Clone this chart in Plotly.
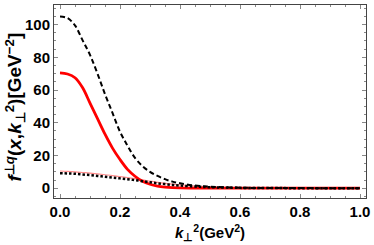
import plotly.graph_objects as go

k = [0, 0.025, 0.05, 0.075, 0.1, 0.125, 0.15, 0.175, 0.2, 0.225, 0.25, 0.275,
     0.3, 0.325, 0.35, 0.375, 0.4, 0.45, 0.5, 0.6, 0.7, 0.8, 0.9, 1.0]

dashed_black = [105, 104, 99.5, 90.5, 81.5, 70, 57.5, 46, 34.5, 26, 18.5, 13.5,
                10, 7.5, 5.5, 4, 3, 1.6, 0.9, 0.3, 0.1, 0.05, 0.02, 0.01]
solid_red = [70.5, 69.8, 67.5, 61.5, 52, 42.5, 33, 24.5, 17.5, 11.5, 7.3, 4.2,
             2.4, 1.3, 0.7, 0.35, 0.2, 0.05, 0.02, 0, 0, 0, 0, 0]
thin_red = [10.5, 10.3, 10, 9.6, 9.2, 8.7, 8.2, 7.7, 7.1, 6.5, 5.8, 5.1,
            4.3, 3.6, 3.0, 2.5, 2.0, 1.3, 0.8, 0.3, 0.1, 0.04, 0.01, 0]
dotted_black = [9.2, 9.0, 8.8, 8.4, 8.0, 7.5, 7.0, 6.5, 6.0, 5.5, 4.9, 4.3,
                3.6, 3.0, 2.5, 2.0, 1.6, 1.0, 0.6, 0.2, 0.07, 0.02, 0.01, 0]

x_ticks = [0, 0.2, 0.4, 0.6, 0.8, 1.0]
x_ticklabels = ["0.0", "0.2", "0.4", "0.6", "0.8", "1.0"]
y_ticks = [0, 20, 40, 60, 80, 100]

x_title = "<b><i>k</i><sub>⊥</sub><sup>2</sup>(GeV<sup>2</sup>)</b>"
y_title = "<b><i>f</i><sup>⊥<i>q</i></sup>(<i>x</i>,<i>k</i><sub>⊥</sub><sup>2</sup>)[GeV<sup>−2</sup>]</b>"

FONT = "Liberation Sans"

fig = go.Figure()
fig.add_trace(go.Scatter(x=k, y=thin_red, mode="lines", line=dict(color="#ff8a8a", width=1.2, shape="spline")))
fig.add_trace(go.Scatter(x=k, y=solid_red, mode="lines", line=dict(color="#ff0000", width=2.8, shape="spline")))
fig.add_trace(go.Scatter(x=k, y=dashed_black, mode="lines", line=dict(color="black", width=2, dash="5px,3px", shape="spline")))
fig.add_trace(go.Scatter(x=k, y=dotted_black, mode="lines", line=dict(color="black", width=2.5, dash="2.5px,2px", shape="spline")))

axis_common = dict(
    showgrid=False, zeroline=False, showline=True, linecolor="#444", linewidth=1,
    mirror="ticks", ticks="inside", ticklen=4, tickwidth=1, tickcolor="#888",
    tickfont=dict(family=FONT, size=15, color="black", weight="bold"),
)

fig.update_xaxes(
    range=[-0.02, 1.02], tickvals=x_ticks, ticktext=x_ticklabels,
    minor=dict(ticks="inside", ticklen=2, dtick=0.05, tick0=0, tickcolor="#888"),
    **axis_common,
)
fig.update_yaxes(
    range=[-6, 112], tickvals=y_ticks,
    minor=dict(ticks="inside", ticklen=2, dtick=5, tick0=0, tickcolor="#888"),
    **axis_common,
)

fig.add_annotation(text=x_title, xref="paper", yref="paper", x=0.5, y=0,
                   xanchor="center", yanchor="middle", yshift=-34, showarrow=False,
                   font=dict(family=FONT, size=15, color="black"))
fig.add_annotation(text=y_title, xref="paper", yref="paper", x=0, y=0.5,
                   xanchor="center", yanchor="middle", xshift=-39, yshift=-6,
                   textangle=-90, showarrow=False,
                   font=dict(family=FONT, size=19, color="black"))

fig.update_layout(
    width=374, height=245, showlegend=False,
    margin=dict(l=54, r=5, t=4, b=47),
    plot_bgcolor="white", paper_bgcolor="white",
)

fig.write_html("out.html", config={"displayModeBar": False},
               post_script="document.body.style.margin='0';")
